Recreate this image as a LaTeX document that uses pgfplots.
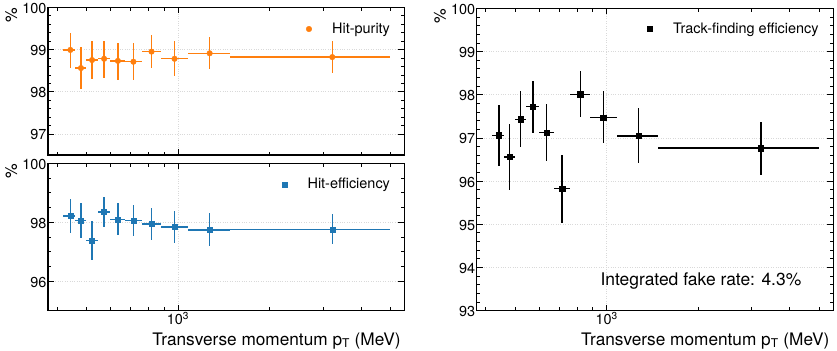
\documentclass[border=0pt]{standalone}
\usepackage{fontspec}
\setmainfont{TeX Gyre Heros}
\usepackage{pgfplots}
\usepackage{pgfplotstable}
\pgfplotsset{compat=1.18}

\definecolor{mplorange}{HTML}{FF7F0E}
\definecolor{mplblue}{HTML}{1F77B4}

% x = mean pT in bin, xm/xp = distance to bin edges, ym/yp = error bars
\pgfplotstableread{
x    y     xm   xp   ym   yp
443  98.99 23   17   0.43 0.41
480  98.56 20   20   0.50 0.49
522  98.75 22   23   0.45 0.45
572  98.78 27   28   0.46 0.42
635  98.73 35   35   0.45 0.43
714  98.71 44   46   0.44 0.45
819  98.95 59   61   0.39 0.40
975  98.78 95   105  0.40 0.42
1272 98.91 192  208  0.38 0.38
3220 98.82 1740 1780 0.38 0.38
}\purity

\pgfplotstableread{
x    y     xm   xp   ym   yp
443  98.21 23   17   0.59 0.57
480  98.05 20   20   0.58 0.59
522  97.37 22   23   0.64 0.67
572  98.35 27   28   0.51 0.51
635  98.09 35   35   0.53 0.55
714  98.05 44   46   0.52 0.55
819  97.94 59   61   0.55 0.53
975  97.84 95   105  0.54 0.55
1272 97.73 192  208  0.54 0.57
3220 97.76 1740 1780 0.51 0.53
}\hiteff

\pgfplotstableread{
x    y     xm   xp   ym   yp
443  97.06 23   17   0.72 0.71
480  96.56 20   20   0.78 0.76
522  97.43 22   23   0.64 0.65
572  97.72 27   28   0.60 0.59
635  97.12 35   35   0.66 0.66
714  95.82 44   46   0.79 0.78
819  98.01 59   61   0.53 0.54
975  97.47 95   105  0.60 0.62
1272 97.04 192  208  0.62 0.64
3220 96.76 1740 1780 0.63 0.61
}\trackeff

\pgfplotsset{
  every axis/.append style={
    scale only axis,
    width=356.4bp,
    xmin=374, xmax=5560,
    xtick={1000}, xticklabels={10\textsuperscript{3}},
    minor xtick={400,500,600,700,800,900,2000,3000,4000,5000},
    axis line style={line width=1.2pt},
    tick style={black, line width=0.6pt},
    major tick length=6pt, minor tick length=3.5pt,
    tick align=inside,
    grid=major, major grid style={dotted, gray!30, line width=0.5pt},
    tick label style={font=\fontsize{14.5}{14.5}\selectfont},
    xticklabel style={inner sep=0pt, yshift=-1.5bp},
    yticklabel style={inner sep=0pt, xshift=-1.3bp, yshift=-1bp},
    ylabel={\%},
    ylabel style={at={(ticklabel cs:1)}, anchor=south east, font=\fontsize{16.5}{16.5}\selectfont, inner sep=0pt, yshift=5bp},
    xlabel style={at={(rel axis cs:1,0)}, anchor=base east, font=\fontsize{17.3}{17.3}\selectfont, inner sep=0pt, yshift=-34.5bp, xshift=-3.5bp},
    legend style={draw=none, fill=none, anchor=north east, inner sep=0pt,
      nodes={inner sep=0pt}, font=\fontsize{14.5}{14.5}\selectfont},
    legend image code/.code={\path (-3bp,0bp) (23bp,0bp); \draw[#1] plot coordinates {(0bp,0bp)};},
    legend cell align=left,
  },
  ebar/.style={only marks,
    error bars/x dir=both, error bars/x explicit,
    error bars/y dir=both, error bars/y explicit,
    error bars/error mark=none,
    error bars/error bar style={line width=1.4pt}},
}

\begin{document}
\begin{tikzpicture}
\useasboundingbox (0,0) rectangle (837bp,351bp);
% top left: hit purity
\begin{semilogxaxis}[at={(48bp,196bp)}, anchor=south west, height=147.7bp,
  /pgf/number format/assume math mode=true,
  ymin=96.5, ymax=100, ytick={97,98,99,100}, minor y tick num=4,
  xticklabels={},
  legend style={at={(rel axis cs:0.96,0.895)}}]
\addplot[ebar, color=mplorange, mark=*, mark size=2.8, mark options={fill=mplorange}]
  table[x=x, y=y, x error plus=xp, x error minus=xm, y error plus=yp, y error minus=ym] {\purity};
\addlegendentry{Hit-purity}
\end{semilogxaxis}
% bottom left: hit efficiency
\begin{semilogxaxis}[at={(48bp,40.5bp)}, anchor=south west, height=147.2bp,
  /pgf/number format/assume math mode=true,
  ymin=95, ymax=100, ytick={96,98,100}, minor y tick num=3,
  xlabel={Transverse momentum p\textsubscript{T} (MeV)},
  legend style={at={(rel axis cs:0.96,0.90)}}]
\addplot[ebar, color=mplblue, mark=square*, mark size=2.5, mark options={fill=mplblue}]
  table[x=x, y=y, x error plus=xp, x error minus=xm, y error plus=yp, y error minus=ym] {\hiteff};
\addlegendentry{Hit-efficiency}
\end{semilogxaxis}
% right: track-finding efficiency
\begin{semilogxaxis}[at={(476.7bp,40.5bp)}, anchor=south west, height=302.2bp,
  /pgf/number format/assume math mode=true,
  ymin=93, ymax=100, ytick={93,94,...,100}, minor y tick num=4,
  xlabel={Transverse momentum p\textsubscript{T} (MeV)},
  legend style={at={(rel axis cs:0.96,0.952)}}]
\addplot[ebar, color=black, mark=square*, mark size=2.6, mark options={fill=black}]
  table[x=x, y=y, x error plus=xp, x error minus=xm, y error plus=yp, y error minus=ym] {\trackeff};
\addlegendentry{Track-finding efficiency}
\node[font=\fontsize{17.5}{17.5}\selectfont] at (rel axis cs:0.629,0.099) {Integrated fake rate: 4.3\%};
\end{semilogxaxis}
\end{tikzpicture}
\end{document}
